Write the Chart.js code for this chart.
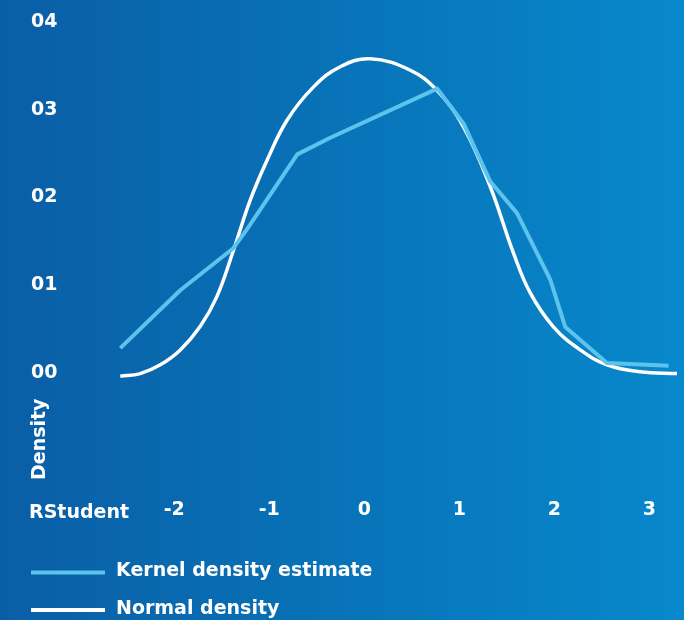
<!DOCTYPE html>
<html>
<head>
<meta charset="utf-8">
<script src="https://cdn.jsdelivr.net/npm/chart.js@4.4.1/dist/chart.umd.min.js"></script>
<style>
  html, body { margin: 0; padding: 0; }
  body {
    width: 684px; height: 620px; overflow: hidden;
    background: linear-gradient(90deg, #0a5ea6 0%, #0873b8 50%, #0888cc 100%);
  }
  #wrap { position: relative; width: 684px; height: 620px; }
</style>
</head>
<body>
<div id="wrap"><canvas id="c"></canvas></div>
<script>
// Kernel density estimate of studentized residuals
const kdeX = [-2.567, -1.936, -1.378, -1.231, -0.705, -0.358, 0.768, 1.045, 1.326, 1.607, 1.957, 2.115, 2.553, 3.201];
const kdeY = [0.028, 0.094, 0.142, 0.164, 0.249, 0.268, 0.324, 0.284, 0.218, 0.182, 0.106, 0.052, 0.011, 0.008];

// Fitted normal density
const normX = [-2.567, -2.357, -2.146, -1.936, -1.725, -1.550, -1.375, -1.199, -1.024, -0.813, -0.533, -0.253, 0.063, 0.484, 0.765, 1.045, 1.326, 1.571, 1.746, 1.992, 2.272, 2.553, 2.904, 3.290];
const normY = [-0.004, -0.001, 0.009, 0.026, 0.053, 0.087, 0.140, 0.197, 0.242, 0.288, 0.326, 0.349, 0.358, 0.345, 0.322, 0.280, 0.212, 0.136, 0.091, 0.052, 0.026, 0.009, 0.001, -0.001];

const xTicks = [-2, -1, 0, 1, 2, 3];
const yTicks = [0, 0.1, 0.2, 0.3, 0.4];
const yTickLabels = ['00', '01', '02', '03', '04'];
const seriesNames = ['Kernel density estimate', 'Normal density'];
const xTitle = 'RStudent';
const yTitle = 'Density';

const FONT = '"DejaVu Sans", sans-serif';
const toPoints = (xs, ys) => xs.map((x, i) => ({ x: x, y: ys[i] }));

// Axis titles and the stacked legend below the plot
const extras = {
  id: 'extras',
  afterDraw(chart) {
    const ctx = chart.ctx;
    ctx.save();
    ctx.fillStyle = '#ffffff';
    ctx.font = 'bold 19px ' + FONT;
    ctx.textBaseline = 'alphabetic';
    ctx.textAlign = 'left';
    ctx.fillText(xTitle, 29, 518);

    ctx.save();
    ctx.translate(45, 480);
    ctx.rotate(-Math.PI / 2);
    ctx.fillText(yTitle, 0, 0);
    ctx.restore();

    const rows = [572.5, 610];
    chart.data.datasets.forEach((ds, i) => {
      const y = rows[i];
      ctx.strokeStyle = ds.borderColor;
      ctx.lineWidth = 4;
      ctx.beginPath();
      ctx.moveTo(31, y);
      ctx.lineTo(105, y);
      ctx.stroke();
      ctx.fillStyle = '#ffffff';
      ctx.textBaseline = 'middle';
      ctx.fillText(ds.label, 116, y - 1);
    });
    ctx.restore();
  }
};

new Chart(document.getElementById('c'), {
  type: 'line',
  data: {
    datasets: [
      {
        label: seriesNames[0],
        data: toPoints(kdeX, kdeY),
        borderColor: '#5cc3ec',
        borderWidth: 4,
        pointRadius: 0,
        tension: 0,
        clip: false,
        borderJoinStyle: 'round'
      },
      {
        label: seriesNames[1],
        data: toPoints(normX, normY),
        borderColor: '#ffffff',
        borderWidth: 3.5,
        pointRadius: 0,
        tension: 0.4,
        clip: false
      }
    ]
  },
  options: {
    responsive: true,
    maintainAspectRatio: false,
    animation: false,
    events: [],
    layout: { padding: { left: 31, right: 7, top: 22, bottom: 0 } },
    plugins: {
      legend: { display: false },
      tooltip: { enabled: false }
    },
    scales: {
      x: {
        type: 'linear',
        min: -2.57,
        max: 3.29,
        grid: { display: false, drawTicks: false },
        border: { display: false },
        afterBuildTicks: (s) => { s.ticks = xTicks.map(v => ({ value: v })); },
        afterFit: (s) => { s.height = 247.3; s.paddingLeft = 0; s.paddingRight = 0; },
        ticks: {
          color: '#ffffff',
          padding: 126,
          maxRotation: 0,
          font: { family: FONT, size: 19, weight: 'bold' },
          callback: (v) => String(v)
        }
      },
      y: {
        type: 'linear',
        min: 0,
        max: 0.4,
        grid: { display: false, drawTicks: false },
        border: { display: false },
        afterBuildTicks: (s) => { s.ticks = yTicks.map(v => ({ value: v })); },
        afterFit: (s) => { s.width = 89; },
        ticks: {
          color: '#ffffff',
          crossAlign: 'far',
          font: { family: FONT, size: 19, weight: 'bold' },
          callback: (v, i) => yTickLabels[i]
        }
      }
    }
  },
  plugins: [extras]
});
</script>
</body>
</html>
